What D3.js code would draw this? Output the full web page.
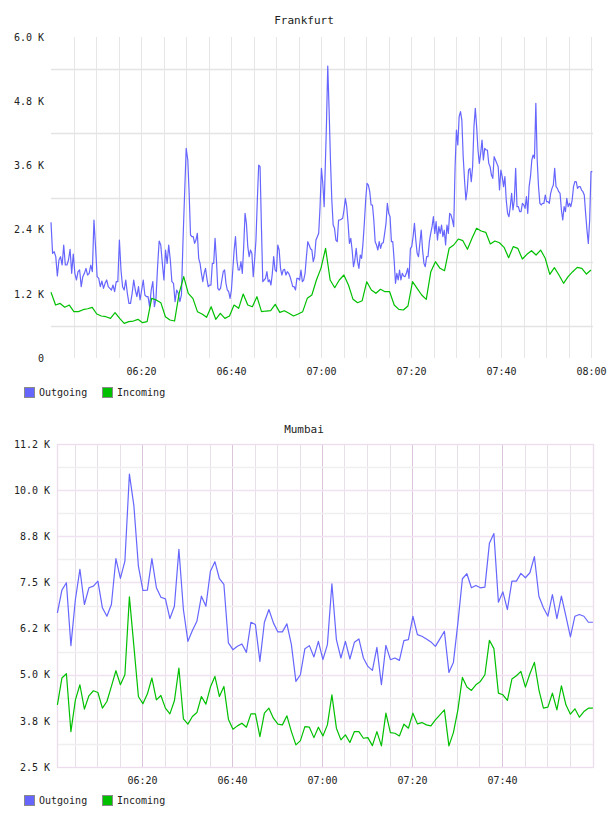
<!DOCTYPE html>
<html>
<head>
<meta charset="utf-8">
<script src="https://cdn.jsdelivr.net/npm/d3@7"></script>
<style>
  body { margin: 0; background: #fff; }
  text { font-family: "DejaVu Sans Mono", monospace; }
</style>
</head>
<body>
<svg id="chart" width="608" height="816"></svg>
<script>
// Frankfurt outgoing, four half-hour blocks (bytes/s)
const fraOut0600 = [2536,1956,1987,1894,1533,1832,1894,1738,2112,1738,1738,1832,2031,1583,1944,1583,1458,1613,1645,1333,
  1520,1583,1676,1551,1583,1738,1613,2579,2081,1520,1489,1333,1439,1302,1396,1458,1333,1302,1271,1364,
  1240,1427,1427,2205,1645,1333,1271,1458,1209,1022,1022,1209,1458,1271,1146,1333,1084,1271,1458,1178,
  1146,1146,959,1271,1427,959,1115,1707,2187,2112,1769,1458,2019,1769,2112,1832,1427,1396,1053,1271,
  1209,1053,1178,2205,3078,3919,3701];
const fraOut0630 = [3078,2299,2268,2268,2143,2205,2330,1863,1769,1583,1427,1583,1676,1489,1333,1364,1364,1769,1769,2237,
  1832,1302,1271,1302,1458,1613,1645,1396,1271,1240,1115,1271,1645,2019,2268,1832,1645,1645,1800,1583,
  2081,2704,2517,2081,1894,2019,1956,1520,1832,2205,2953,3607,3576,2455,1427,1458,1489,1613,1427,1458,
  1364,1583,1894,1645,1613,2112,2019,1676,1551,1645,1657,1551,1613,1583,1520,1427,1333,1333,1271,1489,
  1489,1458,1645,1427,1458,1583,1894,2174,2112,2043,2019,1800,1894,2205,2268,2330,2828,3545,3265,2828];
const fraOut0700 = [4324,5457,4635,3701,2953,2486,2424,2205,2174,2579,2579,2592,2611,2766,2984,2828,2517,2143,2237,2019,
  1707,1832,2050,1800,1676,1925,1863,2143,2517,2953,3265,3233,3109,2860,2860,2579,2174,2112,2019,2174,
  2050,2143,2155,2330,2517,2891,2704,2641,2174,2174,1832,1396,1583,1458,1645,1458,1583,1533,1520,1583,
  1676,1489,2043,2081,2268,2517,2205,1956,1894,2143,2392,2019,1769,1707,1894,1894,2174,2330,2455,2641,
  2330,2548,2205,2455,2330,2486,2268,2392,2112,2486,2330,2704,2673,2579,2455,3576,4261,3981,4511];
const fraOut0730 = [4604,4448,3763,3327,2953,3140,3514,3545,3296,3576,4324,4666,4324,3888,3638,3825,4074,3701,3919,3888,
  3888,3638,3576,3420,3358,3763,3701,3638,3576,3140,3514,3389,3202,3389,2953,2704,2641,2828,3078,2766,
  2953,3545,2828,2828,2735,2735,2891,2860,2797,3015,2704,3202,3389,3701,3794,3732,4760,3701,3202,2891,
  2860,2891,2891,3047,2922,2922,2891,3078,3171,3233,3545,3202,3171,3109,3078,2766,2579,2828,2735,2984,
  2828,2891,2828,2953,3202,3296,3296,3171,3202,3202,3140,3109,3047,2704,2392,2143,2579,3483,3483];
// minutes after 06:00 covered by each block
const fraOutSpans = [[0, 30.4], [30.7, 60.7], [61.2, 90.7], [91, 120.3]];

// Frankfurt incoming, roughly one sample a minute from 06:00 to 08:00
const fraIn = [1230,990,1020,950,990,866,866,903,921,947,822,785,772,741,847,741,648,679,691,723,
  660,679,1115,1084,1034,772,710,691,1209,1520,1209,1115,866,822,760,959,723,835,741,785,
  990,928,1196,990,959,1146,866,878,884,1003,853,884,835,785,822,866,1115,1178,1458,1680,
  2050,1458,1314,1458,1551,1364,1097,1034,1071,1426,1271,1209,1284,1239,1239,990,910,897,972,1426,
  1302,1178,1097,1613,1800,1676,1632,2050,2112,2224,2193,2031,2237,2424,2374,2349,2131,2187,2155,2069,
  1875,2081,2050,1850,1938,2005,1925,2018,1863,1564,1688,1551,1396,1520,1613,1695,1676,1570,1645];

// Mumbai, one sample a minute from 06:01
const mumOut = [6676,7291,7491,5788,7037,7853,6902,7355,7399,7535,6812,6584,6902,8143,7608,8078,10434,9573,7942,7282,
  7291,8143,7355,7100,7055,6521,6856,8396,6766,5905,6195,6448,7127,6856,7806,8062,7600,7445,5861,5679,
  5769,5834,5606,6421,6358,5361,6421,6766,6404,6160,6160,6377,5815,4818,5000,5706,5788,5481,5905,5407,
  5815,7464,5951,5453,5905,5426,5878,5970,5453,5225,5117,5741,4728,5796,5407,5453,5388,5924,5951,6584,
  6086,6041,5970,5888,5769,5970,6177,5062,5334,6404,7600,7735,7355,7418,7355,7372,8559,8823,6964,7246,
  6766,7535,7535,7744,7627,7762,8197,7127,6812,6584,7173,6521,7127,6584,6024,6584,6630,6584,6421,6421];
const mumIn = [4185,4910,5027,3459,4320,4728,4068,4429,4565,4519,4094,4274,4682,5108,4728,5000,7110,5769,4410,4212,
  4483,4910,4320,4437,4094,3940,4293,5182,3804,3660,3867,3975,4410,4203,4665,4954,4410,4682,3796,3524,
  3614,3687,3578,3940,3940,3324,3958,4094,3823,3660,3641,3886,3459,3098,3215,3595,3578,3296,3578,3342,
  3641,4456,3551,3234,3369,3162,3459,3459,3279,3296,3079,3459,3071,3958,3432,3414,3342,3660,3551,3958,
  3668,3704,3641,3614,3777,3913,4049,3071,3432,4049,4926,4665,4573,4728,4818,5000,5932,5706,4502,4456,
  4302,4883,4973,5089,4665,5027,5334,4592,4094,4121,4502,4049,4701,4185,3931,4076,3850,4003,4094,4094];

const fraTicks = [0, 1200, 2400, 3600, 4800, 6000];
const fraTickLabels = ["0", "1.2 K", "2.4 K", "3.6 K", "4.8 K", "6.0 K"];
const mumTicks = [2500, 3750, 5000, 6250, 7500, 8750, 10000, 11250];
const mumTickLabels = ["2.5 K", "3.8 K", "5.0 K", "6.2 K", "7.5 K", "8.8 K", "10.0 K", "11.2 K"];
const fraTimeTicks = ["06:20", "06:40", "07:00", "07:20", "07:40", "08:00"];
const mumTimeTicks = ["06:20", "06:40", "07:00", "07:20", "07:40"];
const legendNames = ["Outgoing", "Incoming"];

const OUT_COLOR = "#6666ff";
const IN_COLOR = "#00c000";

const day = new Date(2024, 0, 1, 6, 0, 0);
const at = m => new Date(day.getTime() + m * 60000);
const parseHM = d3.timeParse("%Y-%m-%d %H:%M");
const hm = s => parseHM("2024-01-01 " + s);

function spread(values, m0, m1) {
    return values.map((v, i) => ({ t: at(m0 + (m1 - m0) * i / (values.length - 1)), v: v }));
}

const svg = d3.select("#chart");

function drawPanel(cfg) {
    const g = svg.append("g");
    const x = d3.scaleTime().domain([at(0), at(120)]).range(cfg.xRange);
    const y = d3.scaleLinear().domain(cfg.yDomain).range([cfg.bottom, cfg.top]);

    // grid
    const fiveMin = d3.range(5, 121, 5).map(at).filter(t => t <= cfg.lastGrid);
    g.selectAll("line.vgrid").data(fiveMin).join("line")
        .attr("x1", d => Math.round(x(d)) + 0.5).attr("x2", d => Math.round(x(d)) + 0.5)
        .attr("y1", cfg.top).attr("y2", cfg.bottom)
        .attr("stroke", d => (cfg.majorV && d.getMinutes() % 20 === 0) ? cfg.majorV : cfg.minorV);
    g.selectAll("line.hgrid").data(cfg.hGrid).join("line")
        .attr("x1", cfg.frame[0]).attr("x2", cfg.frame[1])
        .attr("y1", d => Math.round(y(d.v)) + 0.5).attr("y2", d => Math.round(y(d.v)) + 0.5)
        .attr("stroke", d => d.c).attr("stroke-width", 1.3);
    if (cfg.border) {
        g.append("rect")
            .attr("x", cfg.frame[0] + 0.5).attr("y", cfg.top + 0.5)
            .attr("width", cfg.frame[1] - cfg.frame[0]).attr("height", cfg.bottom - cfg.top)
            .attr("fill", "none").attr("stroke", cfg.border).attr("stroke-width", 1.3);
    }

    // series
    const line = d3.line().x(d => x(d.t)).y(d => y(d.v));
    cfg.series.forEach(s => {
        g.append("path").datum(s.data)
            .attr("fill", "none").attr("stroke", s.color)
            .attr("stroke-width", 1.2).attr("stroke-linejoin", "round")
            .attr("d", line);
    });

    // axes
    const yAxis = d3.axisLeft(y).tickValues(cfg.yTicks)
        .tickFormat((d, i) => cfg.yLabels[i]).tickSize(0).tickPadding(7);
    const ya = g.append("g").attr("transform", `translate(${cfg.frame[0]},0)`).call(yAxis);
    const xAxis = d3.axisBottom(x).tickValues(cfg.xTicks.map(hm))
        .tickFormat(d3.timeFormat("%H:%M")).tickSize(0).tickPadding(10);
    const xa = g.append("g").attr("transform", `translate(0,${cfg.bottom})`).call(xAxis);
    [ya, xa].forEach(a => {
        a.select(".domain").remove();
        a.selectAll("text").attr("fill", "#222").style("font-family", "DejaVu Sans Mono")
            .style("font-size", "10px");
    });

    // title
    g.append("text").attr("x", 304).attr("y", cfg.titleY)
        .attr("text-anchor", "middle").attr("fill", "#222")
        .style("font-size", "11px").text(cfg.title);

    // legend
    const lg = g.selectAll("g.legend").data(cfg.series).join("g")
        .attr("transform", (d, i) => `translate(${24 + i * 78},${cfg.legendY})`);
    lg.append("rect").attr("x", 0.5).attr("y", 0.5).attr("width", 10).attr("height", 10)
        .attr("fill", d => d.color).attr("stroke", "#8a8a8a");
    lg.append("text").attr("x", 15).attr("y", 9).attr("fill", "#222")
        .style("font-size", "10px").text((d, i) => legendNames[i]);
}

const fraOutData = [fraOut0600, fraOut0630, fraOut0700, fraOut0730]
    .flatMap((block, i) => spread(block, fraOutSpans[i][0], fraOutSpans[i][1]));

drawPanel({
    title: "Frankfurt", titleY: 24,
    xRange: [51, 591], frame: [51, 593], top: 37, bottom: 358,
    yDomain: [0, 6000], yTicks: fraTicks, yLabels: fraTickLabels,
    xTicks: fraTimeTicks, lastGrid: at(120),
    hGrid: [600, 1800, 3000, 4200, 5400].map(v => ({ v: v, c: "#e4e4e4" })),
    minorV: "#e6e6e6", majorV: null, border: null,
    legendY: 387,
    series: [
        { data: fraOutData, color: OUT_COLOR },
        { data: spread(fraIn, 0, 120), color: IN_COLOR }
    ]
});

drawPanel({
    title: "Mumbai", titleY: 433,
    xRange: [52, 592], frame: [57, 593], top: 444, bottom: 767,
    yDomain: [2500, 11250], yTicks: mumTicks, yLabels: mumTickLabels,
    xTicks: mumTimeTicks, lastGrid: at(115),
    hGrid: [3125, 4375, 5625, 6875, 8125, 9375, 10625].map(v => ({ v: v, c: "#efefef" }))
        .concat([3750, 5000, 6250, 7500, 8750, 10000].map(v => ({ v: v, c: "#f0e2f0" }))),
    minorV: "#e8e0e8", majorV: "#dcc4dc", border: "#ecdcec",
    legendY: 795,
    series: [
        { data: spread(mumOut, 1.2, 120.2), color: OUT_COLOR },
        { data: spread(mumIn, 1.2, 120.2), color: IN_COLOR }
    ]
});
</script>
</body>
</html>
